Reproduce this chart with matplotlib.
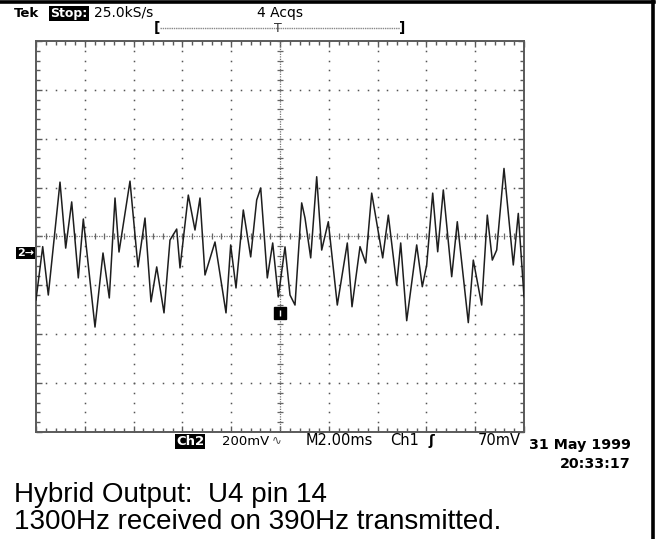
import numpy as np
import matplotlib
matplotlib.use('Agg')
import matplotlib.pyplot as plt
from matplotlib.lines import Line2D
from matplotlib.ticker import MultipleLocator, FixedLocator

W, H = 663, 539

# trace: time in ms from left edge, mV above the Ch2 ground marker
t_ms = [0.0, 0.275, 0.504, 0.984, 1.217, 1.463, 1.734, 1.939, 2.418, 2.746,
        3.004, 3.238, 3.402, 3.852, 4.180, 4.467, 4.713, 4.947, 5.246, 5.492,
        5.766, 5.902, 6.242, 6.516, 6.721, 6.926, 7.336, 7.787, 7.979, 8.197,
        8.496, 8.799, 9.045, 9.209, 9.480, 9.701, 9.930, 10.205, 10.410, 10.615,
        10.889, 11.025, 11.258, 11.504, 11.709, 11.980, 12.348, 12.758, 12.951, 13.279,
        13.512, 13.758, 14.209, 14.439, 14.783, 14.947, 15.193, 15.602, 15.832, 16.012,
        16.258, 16.463, 16.693, 17.037, 17.266, 17.717, 17.922, 18.266, 18.496, 18.701,
        18.881, 19.180, 19.561, 19.766, 20.0]
v_mv = [-192, 26, -172, 290, 20, 209, -102, 139, -303, 0,
        -184, 225, 4, 294, -57, 143, -200, -57, -245, 53,
        98, -61, 237, 94, 225, -90, 45, -245, 33, -143,
        176, -16, 217, 266, -102, 41, -180, 25, -172, -213,
        205, 143, -20, 312, 12, 128, -213, 41, -220, 26,
        -41, 245, -20, 155, -131, 41, -277, 33, -138, -49,
        245, 5, 258, -97, 128, -285, -29, -213, 155, -29,
        12, 346, -49, 162, -179]

ms_per_div = 2.0
mv_per_div = 200.0
center_mv = 67.5     # ground sits a third of a division under the centre line
trig_mv = -245.0

fig = plt.figure(figsize=(W / 100, H / 100), dpi=100)
fig.patch.set_facecolor('white')


def fx(x):
    return x / W


def fy(y):
    return 1 - y / H


ax = fig.add_axes([fx(36), fy(432), 488 / W, 391 / H])
ax.set_xlim(0, 10 * ms_per_div)
ax.set_ylim(center_mv - 4 * mv_per_div, center_mv + 4 * mv_per_div)
ax.set_facecolor('white')
for s in ax.spines.values():
    s.set_color('#5a5a5a')
    s.set_linewidth(1.4)

# frame ticks
ax.xaxis.set_major_locator(MultipleLocator(ms_per_div))
ax.xaxis.set_minor_locator(MultipleLocator(ms_per_div / 5))
ax.yaxis.set_major_locator(FixedLocator(center_mv + np.arange(-4, 5) * mv_per_div))
ax.yaxis.set_minor_locator(FixedLocator(center_mv + np.arange(-20, 21) * mv_per_div / 5))
ax.tick_params(which='both', direction='in', top=True, right=True, bottom=True, left=True,
               labelbottom=False, labelleft=False, color='#5a5a5a', width=1)
ax.tick_params(which='major', length=4)
ax.tick_params(which='minor', length=3)

# dotted graticule
ys = center_mv + np.arange(-20, 21) * mv_per_div / 5
for k in range(1, 10):
    if k == 5:
        continue
    ax.plot(np.full(len(ys), k * ms_per_div), ys, ls='none', marker='s', ms=1.1, mew=0, color='#555555')
xs = np.arange(0, 51) * ms_per_div / 5
for k in range(-3, 4):
    if k == 0:
        continue
    ax.plot(xs, np.full(len(xs), center_mv + k * mv_per_div), ls='none', marker='s', ms=1.1, mew=0, color='#555555')

# centre axes
ax.axhline(center_mv, color='#777777', lw=0.9, ls=(0, (1, 1)))
ax.axvline(5 * ms_per_div, color='#777777', lw=0.9, ls=(0, (1, 1)))
ax.plot(xs, np.full(len(xs), center_mv), ls='none', marker='|', ms=5, mew=0.9, color='#666666')
ax.plot(np.full(len(ys), 5 * ms_per_div), ys, ls='none', marker='_', ms=5, mew=0.9, color='#666666')

# trace
ax.plot(t_ms, v_mv, color='#1e1e1e', lw=1.1, zorder=5, solid_joinstyle='round')

# trigger level marker
ax.plot([5 * ms_per_div], [trig_mv], marker='s', ms=8.5, color='black', zorder=6)
ax.plot([5 * ms_per_div], [trig_mv], marker='|', ms=5, mew=1, color='white', zorder=7)

# header
fig.text(fx(14), fy(17), 'Tek', fontsize=9.5, fontweight='bold', family='DejaVu Sans')
fig.text(fx(50), fy(17), 'Stop:', fontsize=9, fontweight='bold', color='white', family='DejaVu Sans',
         bbox=dict(facecolor='black', edgecolor='none', pad=1.0))
fig.text(fx(94), fy(17), '25.0kS/s', fontsize=10, family='DejaVu Sans')
fig.text(fx(257), fy(17), '4 Acqs', fontsize=10, family='DejaVu Sans')
fig.add_artist(Line2D([fx(160), fx(400)], [fy(28), fy(28)], color='#888888', lw=1, ls=(0, (1, 0.6))))
fig.text(fx(157), fy(28), '[', fontsize=10, fontweight='bold', ha='center', va='center')
fig.text(fx(402), fy(28), ']', fontsize=10, fontweight='bold', ha='center', va='center')
fig.text(fx(278), fy(28), 'T', fontsize=9, ha='center', va='center', color='#333333')

# ground marker
fig.text(fx(17), fy(253), '2→', fontsize=8, fontweight='bold', color='white', va='center',
         family='DejaVu Sans', bbox=dict(facecolor='black', edgecolor='none', pad=0.8))

# bottom readout
fig.text(fx(176), fy(445), 'Ch2', fontsize=9.5, fontweight='bold', color='white', family='DejaVu Sans',
         bbox=dict(facecolor='black', edgecolor='none', pad=0.6))
fig.text(fx(222), fy(445), '200mV', fontsize=9.5, family='DejaVu Sans')
fig.text(fx(272), fy(443), '∿', fontsize=8.5, family=['DejaVu Sans', 'Noto Sans'], color='#444444')
fig.text(fx(306), fy(445), 'M2.00ms', fontsize=10.5, family='DejaVu Sans')
fig.text(fx(390), fy(445), 'Ch1', fontsize=10.5, family='DejaVu Sans')
fig.text(fx(428), fy(445), 'ʃ', fontsize=10, fontweight='bold', family='DejaVu Sans')
fig.text(fx(521), fy(445), '70mV', fontsize=10.5, family='DejaVu Sans', ha='right')
fig.text(fx(631), fy(449), '31 May 1999', fontsize=10.3, fontweight='bold', family='DejaVu Sans', ha='right')
fig.text(fx(631), fy(468), '20:33:17', fontsize=10.3, fontweight='bold', family='DejaVu Sans', ha='right')

# caption
fig.text(fx(14), fy(502), 'Hybrid Output:  U4 pin 14', fontsize=20, family='Liberation Sans')
fig.text(fx(14), fy(529), '1300Hz received on 390Hz transmitted.', fontsize=20, family='Liberation Sans')

# page border
fig.add_artist(Line2D([0, fx(654)], [fy(2), fy(2)], color='black', lw=2.6))
fig.add_artist(Line2D([fx(652.5), fx(652.5)], [fy(0), fy(539)], color='black', lw=2.6))

fig.savefig('out.png', dpi=100)
